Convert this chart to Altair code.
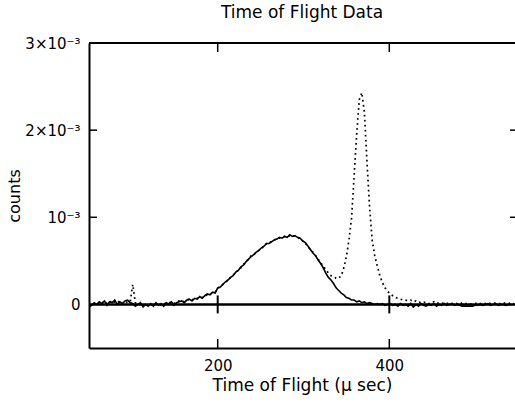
import altair as alt
import pandas as pd

# Time of flight grid (micro-seconds)
tof_us = list(range(50, 546, 3))

# Solid curve, counts in units of 1e-3
solid_e3 = [
    -0.03, -0.01, 0.02, 0.00, 0.03, 0.01, 0.04, -0.01, 0.03, 0.02,   # 50
    0.05, 0.00, 0.03, 0.01, 0.04, 0.05, 0.02, 0.01, -0.02, 0.00,     # 80
    0.02, -0.03, 0.00, -0.02, 0.01, -0.02, 0.02, -0.01, 0.01, -0.02,  # 110
    0.02, 0.00, 0.03, -0.01, 0.02, 0.03, 0.04, 0.02, 0.05, 0.06,     # 140
    0.04, 0.07, 0.06, 0.09, 0.07, 0.10, 0.12, 0.11, 0.14, 0.13,      # 170
    0.19, 0.20, 0.23, 0.26, 0.28, 0.31, 0.33, 0.37, 0.39, 0.43,      # 200
    0.45, 0.49, 0.52, 0.55, 0.57, 0.60, 0.62, 0.65, 0.67, 0.70,      # 230
    0.70, 0.72, 0.74, 0.75, 0.77, 0.76, 0.78, 0.77, 0.80, 0.78,      # 260
    0.79, 0.77, 0.76, 0.73, 0.71, 0.67, 0.63, 0.59, 0.56, 0.51,      # 290
    0.47, 0.42, 0.36, 0.31, 0.28, 0.24, 0.19, 0.16, 0.13, 0.11,      # 320
    0.08, 0.07, 0.05, 0.05, 0.03, 0.04, 0.02, 0.03, 0.01, 0.02,      # 350
    0.01, 0.00, 0.01, 0.00, 0.01, -0.01, 0.00, 0.01, -0.01, 0.00,    # 380
    -0.02, 0.01, -0.01, 0.00, -0.02, 0.01, -0.03, 0.00, -0.02, 0.01, # 410
    -0.01, -0.02, 0.00, -0.01, 0.01, -0.02, 0.00, -0.01, 0.01, -0.01,# 440
    0.00, 0.01, -0.01, 0.00, -0.01, -0.02, -0.02, -0.02, -0.02, -0.02,  # 470
    -0.01, -0.01, 0.00, -0.01, 0.00, 0.01, -0.01, 0.00, 0.01, -0.01, # 500
    0.00, 0.00, -0.01, 0.00, 0.00, 0.00,                             # 530
]

# Dotted curve, counts in units of 1e-3
dotted_e3 = [
    -0.01, 0.01, 0.00, 0.02, 0.01, 0.03, 0.00, 0.02, 0.04, 0.01,     # 50
    0.03, 0.02, 0.04, 0.01, 0.03, 0.02, 0.03, 0.23, 0.02, -0.01,     # 80
    0.01, -0.01, 0.01, -0.02, 0.00, -0.01, 0.01, 0.00, -0.01, 0.01,  # 110
    0.01, 0.02, 0.02, 0.01, 0.03, 0.04, 0.04, 0.03, 0.05, 0.06,      # 140
    0.05, 0.07, 0.07, 0.08, 0.08, 0.10, 0.11, 0.12, 0.13, 0.14,      # 170
    0.18, 0.21, 0.23, 0.25, 0.28, 0.31, 0.34, 0.36, 0.40, 0.42,      # 200
    0.46, 0.49, 0.52, 0.56, 0.57, 0.60, 0.62, 0.64, 0.67, 0.70,      # 230
    0.71, 0.72, 0.74, 0.76, 0.76, 0.77, 0.78, 0.78, 0.79, 0.79,      # 260
    0.78, 0.77, 0.75, 0.73, 0.70, 0.67, 0.63, 0.60, 0.56, 0.52,      # 290
    0.48, 0.44, 0.40, 0.36, 0.33, 0.32, 0.30, 0.30, 0.33, 0.42,      # 320
    0.55, 0.74, 0.99, 1.48, 1.95, 2.35, 2.43, 2.20, 1.63, 1.12,      # 350
    0.74, 0.56, 0.44, 0.33, 0.25, 0.19, 0.15, 0.12, 0.10, 0.08,      # 380
    0.07, 0.06, 0.05, 0.05, 0.04, 0.05, 0.03, 0.04, 0.02, 0.03,      # 410
    0.02, 0.03, 0.01, 0.02, 0.03, 0.01, 0.02, 0.01, 0.02, 0.01,      # 440
    0.02, 0.01, 0.02, 0.01, 0.00, 0.02, 0.01, 0.01, 0.00, 0.01,      # 470
    0.01, 0.02, 0.01, 0.00, 0.01, 0.02, 0.01, 0.01, 0.02, 0.01,      # 500
    0.01, 0.02, 0.01, 0.01, 0.02, 0.01,                              # 530
]

x_ticks = [200, 400]
y_ticks_inner = [1, 2]
y_label_values = [0, 1, 2, 3]

X_DOMAIN = [50, 546.5]
Y_DOMAIN = [-0.5, 3]
W, H = 426, 305
FONT = "DejaVu Sans"

df = pd.DataFrame({"tof": tof_us, "solid": solid_e3, "dotted": dotted_e3})
xt = pd.DataFrame({"t": x_ticks})
yt = pd.DataFrame({"v": y_ticks_inner})

xs = alt.Scale(domain=X_DOMAIN, nice=False, zero=False)
ys = alt.Scale(domain=Y_DOMAIN, nice=False, zero=False)

label_expr = ("datum.value == 3 ? '3×10⁻³' : datum.value == 2 ? '2×10⁻³' : "
              "datum.value == 1 ? '10⁻³' : '0'")

base = alt.Chart(df)

solid_line = base.mark_line(color="black", strokeWidth=1.6, clip=True).encode(
    x=alt.X("tof:Q", scale=xs,
            axis=alt.Axis(values=x_ticks, title="Time of Flight (μ sec)",
                          ticks=False, domain=True, domainColor="black",
                          domainWidth=2, labelPadding=10, labelFlush=False,
                          titleY=37, titleBaseline="middle",
                          labelFont=FONT, labelFontSize=15, labelColor="black",
                          titleFont=FONT, titleFontSize=17,
                          titleFontWeight="normal", titleColor="black",
                          grid=False)),
    y=alt.Y("solid:Q", scale=ys,
            axis=alt.Axis(values=y_label_values, labelExpr=label_expr,
                          title="counts", ticks=False, domain=True,
                          domainColor="black", domainWidth=2,
                          labelPadding=9, labelFlush=False,
                          titleX=-75, titleY=H / 2, titleAngle=-90,
                          titleAlign="center", titleBaseline="middle",
                          labelFont=FONT, labelFontSize=15, labelColor="black",
                          titleFont=FONT, titleFontSize=16,
                          titleFontWeight="normal", titleColor="black",
                          grid=False)),
)

dotted_line = base.mark_line(color="black", strokeWidth=1.7,
                             strokeDash=[1.7, 3.3], clip=True).encode(
    x=alt.X("tof:Q", scale=xs),
    y=alt.Y("dotted:Q", scale=ys),
)

zero_line = alt.Chart(xt).mark_rule(color="black", strokeWidth=2).encode(
    y=alt.datum(0, scale=ys)
)

zero_ticks = alt.Chart(xt).mark_tick(color="black", thickness=2, size=18,
                                     opacity=1, orient="vertical").encode(
    x=alt.X("t:Q", scale=xs),
    y=alt.datum(0, scale=ys),
)

top_line = alt.Chart(xt).mark_rule(color="black", strokeWidth=2).encode(
    y=alt.value(0)
)

bottom_ticks = alt.Chart(xt).mark_rule(color="black", strokeWidth=1.5).encode(
    x=alt.X("t:Q", scale=xs), y=alt.value(H), y2=alt.value(H - 9)
)
top_ticks = alt.Chart(xt).mark_rule(color="black", strokeWidth=1.5).encode(
    x=alt.X("t:Q", scale=xs), y=alt.value(0), y2=alt.value(9)
)
left_ticks = alt.Chart(yt).mark_rule(color="black", strokeWidth=1.5).encode(
    y=alt.Y("v:Q", scale=ys), x=alt.value(0), x2=alt.value(8)
)
right_ticks = alt.Chart(yt).mark_rule(color="black", strokeWidth=1.5).encode(
    y=alt.Y("v:Q", scale=ys), x=alt.value(W - 5), x2=alt.value(W)
)

chart = alt.layer(
    zero_line, solid_line, dotted_line, zero_ticks, top_line,
    bottom_ticks, top_ticks, left_ticks, right_ticks,
).properties(
    width=W, height=H,
    background="white",
    title=alt.TitleParams("Time of Flight Data", font=FONT, fontSize=17,
                          fontWeight="normal", color="black", offset=14,
                          anchor="middle"),
    autosize=alt.AutoSizeParams(type="none"),
    padding={"left": 89, "top": 43, "right": 0, "bottom": 65},
).configure_view(stroke=None)

chart.save("out.html", embed_options={"renderer": "svg", "actions": False})
